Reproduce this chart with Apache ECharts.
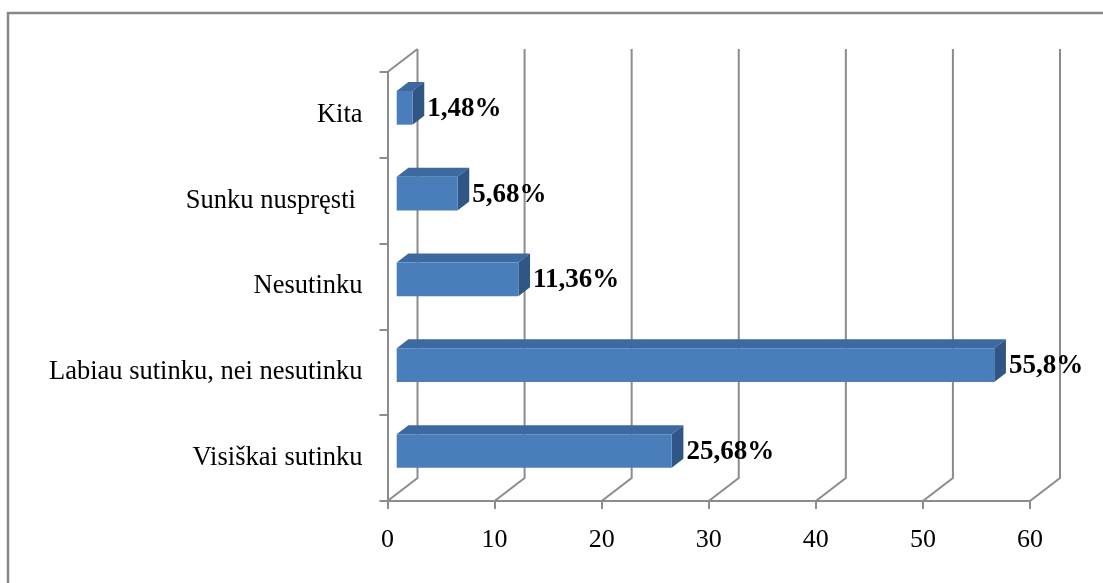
<!DOCTYPE html>
<html>
<head>
<meta charset="utf-8">
<script src="https://cdn.jsdelivr.net/npm/echarts@6/dist/echarts.min.js"></script>
<style>
html,body{margin:0;padding:0;background:#fff;}
#chart{width:1103px;height:583px;}
</style>
</head>
<body>
<div id="chart"></div>
<script>
// Categories top to bottom
const categories = ['Kita', 'Sunku nuspręsti ', 'Nesutinku', 'Labiau sutinku, nei nesutinku', 'Visiškai sutinku'];
const values = [1.48, 5.68, 11.36, 55.8, 25.68];
const xTicks = [0, 10, 20, 30, 40, 50, 60];

const chart = echarts.init(document.getElementById('chart'));

// 3D look constants (pixels)
const WALL_DX = 30, WALL_DY = -23;
const BAR_FX = 9.2, BAR_FY = -7.1;
const BAR_DX = 11.7, BAR_DY = -9;
const GRID_COLOR = '#8c8c8c';

const barData = values.map((v, i) => [v, i]);
const wallData = xTicks.map(t => [t]);

const option = {
  backgroundColor: '#fff',
  animation: false,
  graphic: [{
    type: 'rect',
    shape: { x: 8, y: 13, width: 1200, height: 700 },
    style: { fill: 'none', stroke: '#888888', lineWidth: 2.5 },
    z: 0
  }],
  grid: { left: 387.5, right: 73, top: 72, bottom: 82, containLabel: false },
  xAxis: {
    type: 'value', min: 0, max: 60, interval: 10,
    axisLine: { show: true, lineStyle: { color: GRID_COLOR, width: 2 } },
    axisTick: { show: true, length: 8, lineStyle: { color: GRID_COLOR, width: 2 } },
    splitLine: { show: false },
    axisLabel: { color: '#000', fontFamily: 'Liberation Serif', fontSize: 26, margin: 26 }
  },
  yAxis: {
    type: 'category', data: categories, inverse: true,
    axisLine: { show: true, lineStyle: { color: GRID_COLOR, width: 2 } },
    axisTick: { show: true, length: 8, lineStyle: { color: GRID_COLOR, width: 2 } },
    splitLine: { show: false },
    axisLabel: { color: '#000', fontFamily: 'Liberation Serif', fontSize: 26.5, margin: 25 }
  },
  series: [
    {
      type: 'custom',
      clip: false,
      z: 1,
      silent: true,
      encode: { x: 0 },
      data: wallData,
      renderItem: function (params, api) {
        const cs = params.coordSys;
        const x = api.coord([api.value(0), 0])[0];
        const bottom = cs.y + cs.height;
        const children = [{
          type: 'polyline',
          shape: { points: [[x, bottom], [x + WALL_DX, bottom + WALL_DY], [x + WALL_DX, cs.y + WALL_DY]] },
          style: { stroke: GRID_COLOR, lineWidth: 2, fill: null }
        }];
        if (api.value(0) === 0) {
          children.push({
            type: 'line',
            shape: { x1: x, y1: cs.y, x2: x + WALL_DX, y2: cs.y + WALL_DY },
            style: { stroke: GRID_COLOR, lineWidth: 2 }
          });
        }
        return { type: 'group', children: children };
      }
    },
    {
      type: 'custom',
      clip: false,
      z: 5,
      encode: { x: 0, y: 1 },
      data: barData,
      renderItem: function (params, api) {
        const v = api.value(0);
        const i = api.value(1);
        const p0 = api.coord([0, i]);
        const p1 = api.coord([v, i]);
        const band = api.size([0, 1])[1];
        const h = band * 0.393;
        const cy = p0[1] + BAR_FY;
        const x0 = p0[0] + BAR_FX;
        const x1 = p1[0] + BAR_FX;
        const top = cy - h / 2, bot = cy + h / 2;
        const label = String(v).replace('.', ',') + '%';
        return {
          type: 'group',
          children: [
            { type: 'polygon', shape: { points: [[x0, top], [x1, top], [x1 + BAR_DX, top + BAR_DY], [x0 + BAR_DX, top + BAR_DY]] },
              style: { fill: '#3c6aa0' } },
            { type: 'polygon', shape: { points: [[x1, top], [x1 + BAR_DX, top + BAR_DY], [x1 + BAR_DX, bot + BAR_DY], [x1, bot]] },
              style: { fill: '#2f5685' } },
            { type: 'rect', shape: { x: x0, y: top, width: x1 - x0, height: h },
              style: { fill: '#4a7ebb' } },
            { type: 'text', x: x1 + BAR_DX + 3, y: cy + 1,
              style: { text: label, fill: '#000', font: 'bold 27px "Liberation Serif"', align: 'left', verticalAlign: 'middle' } }
          ]
        };
      }
    }
  ]
};
chart.setOption(option);
</script>
</body>
</html>
